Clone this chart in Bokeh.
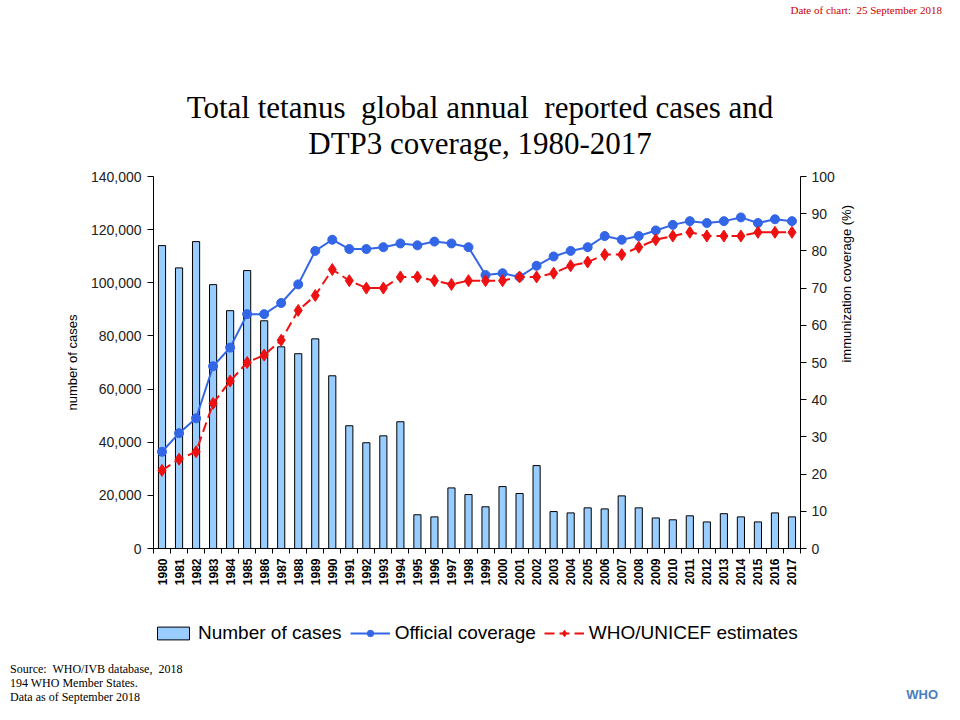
import math
from bokeh.plotting import figure
from bokeh.layouts import column
from bokeh.models import (Range1d, LinearAxis, FixedTicker, NumeralTickFormatter,
                          Legend, LegendItem, Div)
from bokeh.embed import file_html
from bokeh.resources import INLINE

years = list(range(1980, 2018))
cases = [114000, 105600, 115500, 99300, 89500, 104600, 85700, 75900, 73300, 78900,
         65000, 46200, 39800, 42400, 47700, 12700, 11900, 22800, 20300, 15700,
         23300, 20700, 31200, 13900, 13400, 15300, 14900, 19800, 15300, 11500,
         10800, 12300, 10000, 13100, 11900, 10000, 13400, 11900]
official = [26, 31, 35, 49, 54, 63, 63, 66, 71, 80,
            83, 80.5, 80.5, 81, 82, 81.5, 82.5, 82, 81, 73.5,
            74, 73, 76, 78.5, 80, 81, 84, 83, 84, 85.5,
            87, 88, 87.5, 88, 89, 87.5, 88.5, 88]
estimates = [21, 24, 26, 39, 45, 50, 52, 56, 64, 68,
             75, 72, 70, 70, 73, 73, 72, 71, 72, 72,
             72, 73, 73, 74, 76, 77, 79, 79, 81, 83,
             84, 85, 84, 84, 84, 85, 85, 85]
left_ticks = [0, 20000, 40000, 60000, 80000, 100000, 120000, 140000]
right_ticks = [0, 10, 20, 30, 40, 50, 60, 70, 80, 90, 100]
series_names = ["Number of cases", "Official coverage", "WHO/UNICEF estimates"]

title_lines = ["Total tetanus&nbsp; global annual&nbsp; reported cases and",
               "DTP3 coverage, 1980-2017"]
date_text = "Date of chart:&nbsp; 25 September 2018"
foot_lines = ["Source:&nbsp; WHO/IVB database,&nbsp; 2018",
              "194 WHO Member States.",
              "Data as of September 2018"]

BAR = "#99CCFF"
BLUE = "#3366E6"
RED = "#EE1111"
GRID = "#92C9E6"

W = 944
HEAD_H = 168
MAIN_TOP, FRAME_H, MAIN_BOT = 8, 372, 52
MAIN_H = MAIN_TOP + FRAME_H + MAIN_BOT
LEG_H = 58
FOOT_H = 704 - HEAD_H - MAIN_H - LEG_H
FL, FR = 153, 144

# ---------------- header (title + date) ----------------
head_html = (
    f'<div style="position:relative;width:{W}px;height:{HEAD_H}px;overflow:hidden;">'
    '<div style="position:absolute;right:2px;top:4px;font-family:\'Liberation Serif\';'
    f'font-size:11px;line-height:13px;color:#CC0000;white-space:nowrap;">{date_text}</div>'
    '<div style="position:absolute;left:130px;width:700px;top:90px;text-align:center;'
    'font-family:\'Liberation Serif\';font-size:31px;line-height:36px;color:#000;white-space:nowrap;">'
    f'{title_lines[0]}<br>{title_lines[1]}</div></div>'
)
head = Div(text=head_html, width=W, height=HEAD_H, margin=(0, 0, 0, 0))

# ---------------- main chart ----------------
p = figure(width=W, height=MAIN_H, output_backend="svg", toolbar_location=None, title=None,
           x_range=Range1d(1979.5, 2017.5), y_range=Range1d(0, 140000),
           min_border_left=FL, min_border_right=FR, min_border_top=MAIN_TOP,
           min_border_bottom=MAIN_BOT, x_axis_type=None, y_axis_type=None)
p.outline_line_color = None
p.background_fill_color = "white"
p.border_fill_color = "white"
p.extra_y_ranges = {"cov": Range1d(0, 100)}

xax = LinearAxis(ticker=FixedTicker(ticks=years, minor_ticks=[y - 0.5 for y in years] + [2017.5]))
xax.major_tick_line_color = None
xax.major_tick_out = 5
xax.major_tick_in = 0
xax.minor_tick_line_color = "black"
xax.minor_tick_out = 5
xax.minor_tick_in = 0
xax.major_label_orientation = math.pi / 2
xax.major_label_standoff = 5
xax.major_label_text_font = "Liberation Sans"
xax.major_label_text_font_style = "bold"
xax.major_label_text_font_size = "12px"
xax.major_label_text_color = "black"
xax.axis_line_color = "black"
p.add_layout(xax, "below")

lax = LinearAxis(ticker=FixedTicker(ticks=left_ticks), formatter=NumeralTickFormatter(format="0,0"))
lax.axis_label = "number of cases"
rax = LinearAxis(y_range_name="cov", ticker=FixedTicker(ticks=right_ticks))
rax.axis_label = "immunization coverage (%)"
for ax in (lax, rax):
    ax.major_tick_out = 6
    ax.major_tick_in = 0
    ax.minor_tick_line_color = None
    ax.major_tick_line_color = "black"
    ax.axis_line_color = "black"
    ax.major_label_text_font = "Liberation Sans"
    ax.major_label_text_font_size = "14px"
    ax.major_label_text_color = "#222222"
    ax.major_label_standoff = 6
    ax.axis_label_text_font = "Liberation Sans"
    ax.axis_label_text_font_size = "13px"
    ax.axis_label_text_font_style = "normal"
    ax.axis_label_text_color = "black"
lax.axis_label_standoff = 8
rax.axis_label_standoff = 9
rax.major_label_standoff = 5
rax.axis_label_orientation = math.pi / 2
p.add_layout(lax, "left")
p.add_layout(rax, "right")

p.ygrid.ticker = FixedTicker(ticks=left_ticks)
p.ygrid.grid_line_color = GRID
p.ygrid.grid_line_width = 1
p.xgrid.visible = False


def draw_series(f):
    b = f.vbar(x=years, top=cases, width=0.42, fill_color=BAR, line_color="black", line_width=1)
    l1 = f.line(years, official, y_range_name="cov", line_color=BLUE, line_width=2)
    m1 = f.scatter(years, official, y_range_name="cov", marker="circle", size=9,
                   fill_color=BLUE, line_color=BLUE)
    l2 = f.line(years, estimates, y_range_name="cov", line_color=RED, line_width=2,
                line_dash="10 5")
    m2 = f.scatter(years, estimates, y_range_name="cov", marker="diamond", size=12,
                   fill_color=RED, line_color=RED)
    return b, l1, m1, l2, m2


draw_series(p)

# ---------------- legend strip ----------------
# The same series on a strip whose y ranges sit above all values, so only the legend shows.
leg = figure(width=W, height=LEG_H, output_backend="svg", toolbar_location=None, title=None,
             x_range=Range1d(1979.5, 2017.5), y_range=Range1d(200000, 300000),
             min_border_left=FL, min_border_right=FR, min_border_top=0, min_border_bottom=0,
             x_axis_type=None, y_axis_type=None)
leg.extra_y_ranges = {"cov": Range1d(200, 300)}
leg.outline_line_color = None
leg.background_fill_color = "white"
leg.border_fill_color = "white"
leg.xgrid.visible = False
leg.ygrid.visible = False
b, l1, m1, l2, m2 = draw_series(leg)
legend = Legend(items=[LegendItem(label=series_names[0], renderers=[b]),
                       LegendItem(label=series_names[1], renderers=[l1, m1]),
                       LegendItem(label=series_names[2], renderers=[l2, m2])],
                orientation="horizontal", location=(0, 14))
legend.border_line_color = None
legend.background_fill_alpha = 0
legend.padding = 0
legend.margin = 0
legend.spacing = 8
legend.label_standoff = 5
legend.glyph_width = 40
legend.glyph_height = 16
legend.label_height = 22
legend.label_text_font = "Liberation Sans"
legend.label_text_font_size = "19px"
legend.label_text_color = "black"
leg.add_layout(legend, "center")

# ---------------- footer notes ----------------
foot_html = (
    f'<div style="position:relative;width:{W}px;height:{FOOT_H}px;overflow:hidden;">'
    '<div style="position:absolute;left:10px;top:4px;font-family:\'Liberation Serif\';'
    'font-size:12px;line-height:14px;color:#000;white-space:nowrap;">'
    + "<br>".join(foot_lines) +
    '</div>'
    '<div style="position:absolute;right:6px;top:29px;font-family:\'Liberation Sans\';'
    'font-size:13px;font-weight:bold;line-height:15px;color:#4A7FC0;">WHO</div></div>'
)
foot = Div(text=foot_html, width=W, height=FOOT_H, margin=(0, 0, 0, 0))

layout = column(head, p, leg, foot, spacing=0)
open("out.html", "w").write(file_html(layout, INLINE))
